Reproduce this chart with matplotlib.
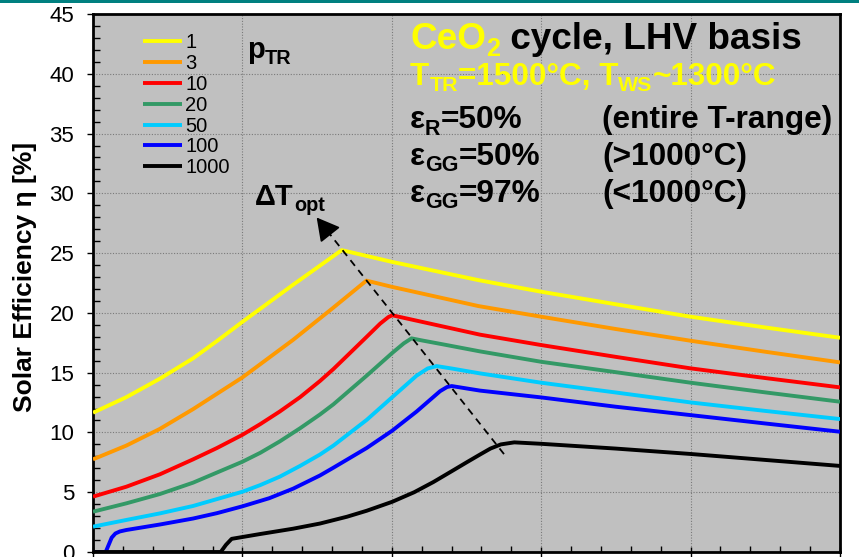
import matplotlib
matplotlib.use("Agg")
import matplotlib.pyplot as plt
from matplotlib.patches import Rectangle
from matplotlib.ticker import MultipleLocator
from matplotlib.transforms import ScaledTranslation

plt.rcParams['font.family'] = ['Liberation Sans', 'DejaVu Sans']

# ---- data: solar efficiency [%] vs. temperature swing dT [K] for each p_TR ----
pressures = ['1', '3', '10', '20', '50', '100', '1000']
colors = ['#FFFF00', '#FF9900', '#FF0000', '#339966', '#00CCFF', '#0000FF', '#000000']

dT_p1 = [0, 22.3, 44.8, 67, 83, 100, 133.9, 166.5, 200, 258, 300, 350, 400, 450, 500]
eta_p1 = [11.65, 12.95, 14.5, 16.2, 17.65, 19.25, 22.35, 25.25, 24.27, 22.74, 21.77, 20.72, 19.68, 18.78, 17.92]

dT_p3 = [0, 22.3, 44.8, 67, 100, 134, 160, 183, 200, 258, 300, 350, 400, 450, 500]
eta_p3 = [7.75, 8.9, 10.3, 11.95, 14.6, 17.75, 20.35, 22.7, 22.18, 20.57, 19.68, 18.65, 17.67, 16.75, 15.86]

dT_p10 = [0, 22.3, 44.8, 67, 83, 100, 112, 125, 138.6, 151.9, 160.9, 170, 183.2, 192.2, 197.7, 200.3,
          230, 259, 300, 350, 400, 450, 500]
eta_p10 = [4.63, 5.46, 6.5, 7.75, 8.7, 9.8, 10.7, 11.75, 12.95, 14.3, 15.3, 16.4, 18.0, 19.1, 19.65, 19.8,
           18.98, 18.18, 17.31, 16.32, 15.36, 14.55, 13.77]

dT_p20 = [0, 22.3, 44.8, 67, 100, 112, 125, 138.6, 151.9, 160.9, 183.2, 200.3, 208, 213.2, 220, 235,
          259, 300, 350, 400, 450, 500]
eta_p20 = [3.37, 4.07, 4.85, 5.8, 7.55, 8.3, 9.25, 10.35, 11.5, 12.35, 14.75, 16.65, 17.45, 17.87, 17.7, 17.35,
           16.78, 15.91, 15.04, 14.16, 13.35, 12.57]

dT_p50 = [0, 22.3, 44.8, 67, 100, 112, 125, 138.6, 151.9, 160.9, 183.2, 200.3, 216.6, 224, 230, 240,
          259, 300, 350, 400, 450, 500]
eta_p50 = [2.12, 2.68, 3.23, 3.85, 5.04, 5.6, 6.3, 7.2, 8.15, 8.9, 11.05, 12.95, 14.75, 15.35, 15.55, 15.35,
           14.94, 14.16, 13.34, 12.51, 11.8, 11.12]

dT_p100 = [0, 8.5, 10.5, 12.5, 15, 18, 22.3, 44.8, 67, 83, 100, 118, 134, 151.9, 160.9, 183.2, 200.3,
           216.6, 232.3, 237, 240.1, 259, 300, 350, 400, 450, 500]
eta_p100 = [0, 0, 0.6, 1.2, 1.55, 1.72, 1.84, 2.3, 2.8, 3.25, 3.82, 4.5, 5.3, 6.4, 7.05, 8.7, 10.15,
            11.75, 13.45, 13.8, 13.88, 13.5, 12.93, 12.15, 11.45, 10.75, 10.06]

dT_p1000 = [0, 85.5, 89, 92.8, 111.7, 134, 151.9, 170, 183.2, 200.3, 215, 227.8, 240, 250.1, 259,
            266, 273, 282, 300, 350, 400, 450, 500]
eta_p1000 = [0, 0, 0.6, 1.1, 1.5, 1.95, 2.38, 2.95, 3.45, 4.2, 5.0, 5.85, 6.75, 7.5, 8.15,
             8.65, 9.0, 9.17, 9.05, 8.65, 8.2, 7.7, 7.2]

series_dT = [dT_p1, dT_p3, dT_p10, dT_p20, dT_p50, dT_p100, dT_p1000]
series_eta = [eta_p1, eta_p3, eta_p10, eta_p20, eta_p50, eta_p100, eta_p1000]

# direction of the optimum shift (dashed arrow), from tail to tip
opt_tail = (275.1, 8.19)
opt_tip = (149.7, 27.98)

# ---- figure ----
W, H = 859, 557
fig = plt.figure(figsize=(W / 100, H / 100), dpi=100, facecolor='white')
fig.patches.append(Rectangle((0, 1 - 3 / H), 1, 3 / H, transform=fig.transFigure,
                             facecolor='#008080', edgecolor='none', zorder=0))

ax = fig.add_axes([93 / W, 5 / H, 747 / W, 538 / H])
ax.set_facecolor('#C0C0C0')
ax.set_xlim(0, 500)
ax.set_ylim(0, 45)

ax.xaxis.set_major_locator(MultipleLocator(100))
ax.xaxis.set_minor_locator(MultipleLocator(20))
ax.yaxis.set_major_locator(MultipleLocator(5))
ax.yaxis.set_minor_locator(MultipleLocator(1))
ax.tick_params(axis='y', which='major', direction='out', length=4.5, width=1,
               labelsize=16, pad=9)
ax.tick_params(axis='y', which='minor', direction='in', length=5, width=1)
ax.tick_params(axis='x', which='major', direction='inout', length=7, width=1,
               labelbottom=False)
ax.tick_params(axis='x', which='minor', direction='in', length=4, width=1)
for sp in ax.spines.values():
    sp.set_linewidth(2.0)
    sp.set_color('black')

ax.grid(True, which='major', color='#7a7a7a', linestyle=(0, (1, 1.5)), linewidth=0.8)
ax.set_axisbelow(True)

handles = []
for dT, eta, c, lab in zip(series_dT, series_eta, colors, pressures):
    ln, = ax.plot(dT, eta, color=c, lw=2.8, label=lab, solid_joinstyle='round',
                  solid_capstyle='butt', zorder=3)
    handles.append(ln)

# dashed optimum path with a solid head
slope = (opt_tip[1] - opt_tail[1]) / (opt_tip[0] - opt_tail[0])
ax.plot([opt_tail[0], opt_tip[0] + 8], [opt_tail[1], opt_tip[1] + 8 * slope],
        color='black', lw=1.3, dashes=(4, 3), zorder=4)
ax.annotate('', xy=opt_tip, xytext=(opt_tip[0] + 9, opt_tip[1] + 9 * slope),
            arrowprops=dict(arrowstyle='-|>,head_length=1.0,head_width=0.55',
                            mutation_scale=14, color='black', lw=1.3,
                            shrinkA=0, shrinkB=0), zorder=4)

leg = ax.legend(handles=handles, loc='upper left', bbox_to_anchor=(0.067, 0.964),
                frameon=False, fontsize=14.5, handlelength=1.95, handletextpad=0.15,
                labelspacing=0.09, borderpad=0, borderaxespad=0)

fig.text(25 / W, 1 - 276.5 / H, 'Solar Efficiency η [%]', rotation=90,
         fontsize=19, fontweight='bold', ha='center', va='center')

renderer = fig.canvas.get_renderer()


def rich_text(x, y, pieces, size):
    """Draw bold text made of (string, color, is_subscript) runs on one baseline."""
    dx = 0.0
    for s, c, sub in pieces:
        fs = size * 0.68 if sub else size
        dy = -size * 0.2 if sub else 0.0
        tr = ax.transData + ScaledTranslation(dx / 72, dy / 72, fig.dpi_scale_trans)
        t = ax.text(x, y, s, color=c, fontsize=fs, fontweight='bold',
                    transform=tr, ha='left', va='baseline', zorder=5)
        dx += t.get_window_extent(renderer).width * 72 / fig.dpi


YEL = '#FFFF00'
K = 'black'
rich_text(212.2, 42.1, [('CeO', YEL, False), ('2', YEL, True),
                        (' cycle, LHV basis', K, False)], 26.6)
rich_text(212.2, 39.05, [('T', YEL, False), ('TR', YEL, True), ('=1500°C, T', YEL, False),
                         ('WS', YEL, True), ('~1300°C', YEL, False)], 22.7)
rich_text(212.2, 35.43, [('ε', K, False), ('R', K, True), ('=50%', K, False)], 22.8)
rich_text(212.2, 32.36, [('ε', K, False), ('GG', K, True), ('=50%', K, False)], 22.8)
rich_text(212.2, 29.29, [('ε', K, False), ('GG', K, True), ('=97%', K, False)], 22.8)
rich_text(340.7, 35.43, [('(entire T-range)', K, False)], 22.8)
rich_text(340.7, 32.36, [('(>1000°C)', K, False)], 22.8)
rich_text(340.7, 29.29, [('(<1000°C)', K, False)], 22.8)
rich_text(103.0, 41.28, [('p', K, False), ('TR', K, True)], 21)
rich_text(108.5, 29.0, [('ΔT', K, False), ('opt', K, True)], 21)

fig.savefig('out.png', dpi=100, facecolor='white')
